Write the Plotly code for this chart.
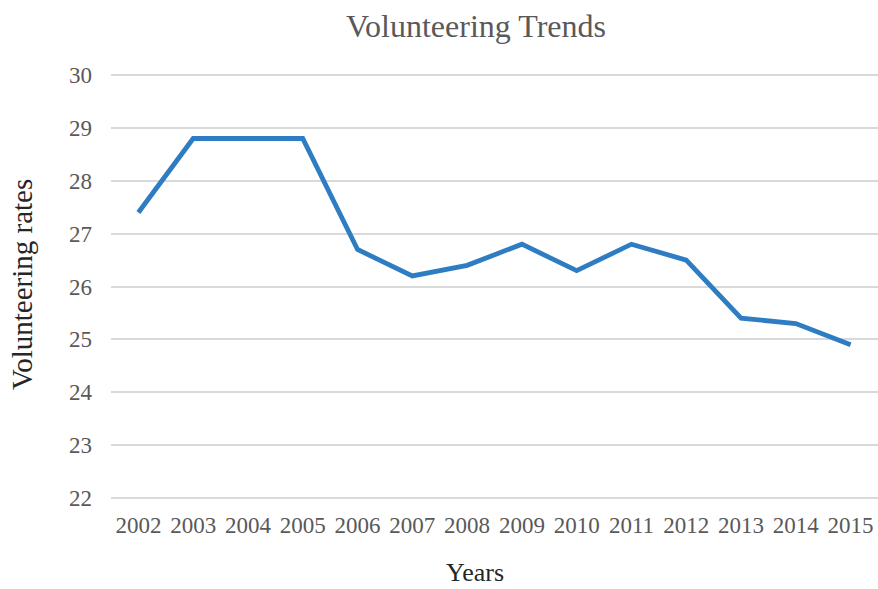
import plotly.graph_objects as go

years = ["2002", "2003", "2004", "2005", "2006", "2007", "2008",
         "2009", "2010", "2011", "2012", "2013", "2014", "2015"]
rates = [27.4, 28.8, 28.8, 28.8, 26.7, 26.2, 26.4,
         26.8, 26.3, 26.8, 26.5, 25.4, 25.3, 24.9]
y_ticks = [22, 23, 24, 25, 26, 27, 28, 29, 30]

TEXT = "#595959"
DARK = "#262626"
SERIF = "Liberation Serif, Times New Roman, serif"

# plot area in pixels
L, R, T, B = 111, 0, 74, 90
PW, PH = 878 - L - R, 589 - T - B
PAD = 0.02  # small padding so the 22 and 30 gridlines are drawn

fig = go.Figure(
    go.Scatter(
        x=years, y=rates, mode="lines",
        line=dict(color="#2E7DC2", width=4.8),
        hoverinfo="x+y",
    )
)

fig.update_layout(
    width=878, height=589,
    margin=dict(l=L, r=R, t=T, b=B),
    paper_bgcolor="white", plot_bgcolor="white",
    showlegend=False,
    font=dict(family=SERIF, color=TEXT),
    title=dict(text="Volunteering Trends", x=476 / 878, xref="container",
               xanchor="center", y=1 - 26 / 589, yref="container",
               yanchor="middle",
               font=dict(size=32, color=TEXT, family=SERIF)),
)

fig.update_xaxes(
    type="category", range=[-0.5, 13.5],
    showgrid=False, zeroline=False, showline=False,
    ticks="", tickfont=dict(size=23, color=TEXT, family=SERIF),
    ticklabelstandoff=10,
)
fig.update_yaxes(
    range=[22 - PAD, 30 + PAD], tickvals=y_ticks,
    showgrid=True, gridcolor="#D9D9D9", gridwidth=1.5,
    zeroline=False, showline=False,
    ticks="", tickfont=dict(size=23, color=TEXT, family=SERIF),
    ticklabelstandoff=18,
)

fig.add_annotation(text="Years", xref="paper", yref="paper",
                   x=(475 - L) / PW, y=-(572 - (589 - B)) / PH,
                   xanchor="center", yanchor="middle", showarrow=False,
                   font=dict(size=26, color=DARK, family=SERIF))
fig.add_annotation(text="Volunteering rates", xref="paper", yref="paper",
                   x=-(L - 22) / PW, y=((589 - B) - 285) / PH, textangle=-90,
                   xanchor="center", yanchor="middle", showarrow=False,
                   font=dict(size=29, color=DARK, family=SERIF))

fig.write_html("out.html")
